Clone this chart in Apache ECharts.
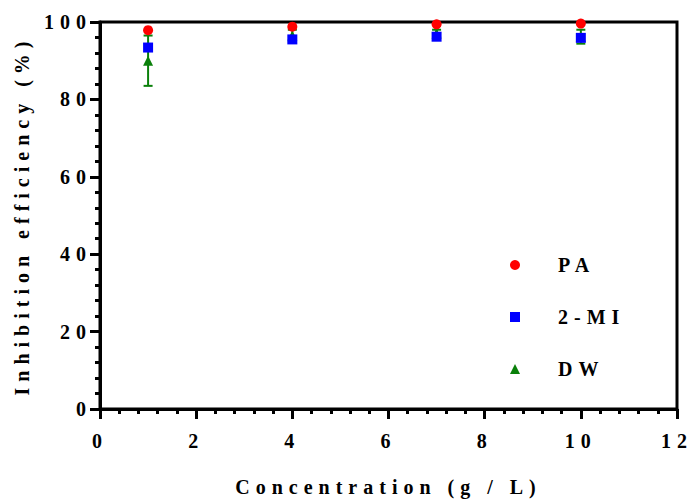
<!DOCTYPE html>
<html>
<head>
<meta charset="utf-8">
<script src="https://cdn.jsdelivr.net/npm/echarts@6/dist/echarts.min.js"></script>
<style>
html,body{margin:0;padding:0;background:#fff}
#c{width:688px;height:500px}
#c text{letter-spacing:6px}
</style>
</head>
<body>
<div id="c"></div>
<script>
var concentrations = [1, 4, 7, 10];
var paValues = [97.9, 98.8, 99.4, 99.6];
var miValues = [93.4, 95.5, 96.2, 95.9];
var dwValues = [90.0, 96.5, 97.0, 96.2];
var dwErrors = [6.5, 1.5, 1.0, 1.8];
var xTicks = [0, 2, 4, 6, 8, 10, 12];
var yTicks = [0, 20, 40, 60, 80, 100];

var FONT = '"Liberation Serif", "Times New Roman", serif';
var RED = '#ff0000', BLUE = '#0000ff', GREEN = '#0a800a';

function pts(vals) { return concentrations.map(function (x, i) { return [x, vals[i]]; }); }
function errData(vals, errs) { return concentrations.map(function (x, i) { return [x, vals[i] - errs[i], vals[i] + errs[i]]; }); }
function errSeries(name, vals, errs, color) {
  return {
    type: 'custom', name: name, data: errData(vals, errs), z: 2, silent: true,
    itemStyle: { color: color },
    renderItem: function (params, api) {
      var lo = api.coord([api.value(0), api.value(1)]);
      var hi = api.coord([api.value(0), api.value(2)]);
      var w = 4.5;
      var st = { stroke: color, lineWidth: 2 };
      return { type: 'group', children: [
        { type: 'line', shape: { x1: lo[0], y1: lo[1], x2: hi[0], y2: hi[1] }, style: st },
        { type: 'line', shape: { x1: lo[0] - w, y1: lo[1], x2: lo[0] + w, y2: lo[1] }, style: st },
        { type: 'line', shape: { x1: hi[0] - w, y1: hi[1], x2: hi[0] + w, y2: hi[1] }, style: st }
      ]};
    }
  };
}

var chart = echarts.init(document.getElementById('c'), null, { renderer: 'svg' });
chart.setOption({
  animation: false,
  backgroundColor: '#fff',
  grid: { left: 100, right: 11, top: 22, bottom: 91, outerBoundsMode: 'none', containLabel: false,
    show: true, borderColor: '#000', borderWidth: 3, backgroundColor: 'transparent' },
  legend: {
    orient: 'vertical', left: 505, top: 250, itemGap: 32, itemWidth: 10, itemHeight: 10,
    data: [
      { name: 'PA', icon: 'circle', itemStyle: { color: RED } },
      { name: '2-MI', icon: 'rect', itemStyle: { color: BLUE } },
      { name: 'DW', icon: 'triangle', itemStyle: { color: GREEN } }
    ],
    textStyle: { fontFamily: FONT, fontWeight: 'bold', fontSize: 20, color: '#000', padding: [0, 0, 0, 33] }
  },
  xAxis: {
    type: 'value', min: 0, max: 12, interval: 2,
    name: 'Concentration (g / L)', nameLocation: 'middle', nameGap: 68,
    nameTextStyle: { fontFamily: FONT, fontWeight: 'bold', fontSize: 20, color: '#000' },
    axisLine: { show: true, lineStyle: { color: '#000', width: 3 } },
    axisTick: { show: true, length: 10, lineStyle: { color: '#000', width: 3 } },
    minorTick: { show: true, splitNumber: 5, length: 5, lineStyle: { color: '#000', width: 3 } },
    splitLine: { show: false },
    axisLabel: { margin: 22, fontFamily: FONT, fontWeight: 'bold', fontSize: 20, color: '#000',
      formatter: function (v) { return xTicks.indexOf(v) >= 0 ? String(v) : ''; } }
  },
  yAxis: {
    type: 'value', min: 0, max: 100, interval: 20,
    name: 'Inhibition efficiency (%)', nameLocation: 'middle', nameGap: 68, nameRotate: 90,
    nameTextStyle: { fontFamily: FONT, fontWeight: 'bold', fontSize: 20, color: '#000' },
    axisLine: { show: true, lineStyle: { color: '#000', width: 3 } },
    axisTick: { show: true, length: 10, lineStyle: { color: '#000', width: 3 } },
    minorTick: { show: true, splitNumber: 5, length: 5, lineStyle: { color: '#000', width: 3 } },
    splitLine: { show: false },
    axisLabel: { margin: 8, fontFamily: FONT, fontWeight: 'bold', fontSize: 20, color: '#000',
      formatter: function (v) { return yTicks.indexOf(v) >= 0 ? String(v) : ''; } }
  },
  series: [
    errSeries('DW', dwValues, dwErrors, GREEN),
    { type: 'scatter', name: 'DW', data: pts(dwValues), symbol: 'triangle', symbolSize: 10, z: 3, itemStyle: { color: GREEN, opacity: 1 } },
    { type: 'scatter', name: '2-MI', data: pts(miValues), symbol: 'rect', symbolSize: 10, z: 4, itemStyle: { color: BLUE, opacity: 1 } },
    { type: 'scatter', name: 'PA', data: pts(paValues), symbol: 'circle', symbolSize: 10, z: 5, itemStyle: { color: RED, opacity: 1 } }
  ]
});
</script>
</body>
</html>
